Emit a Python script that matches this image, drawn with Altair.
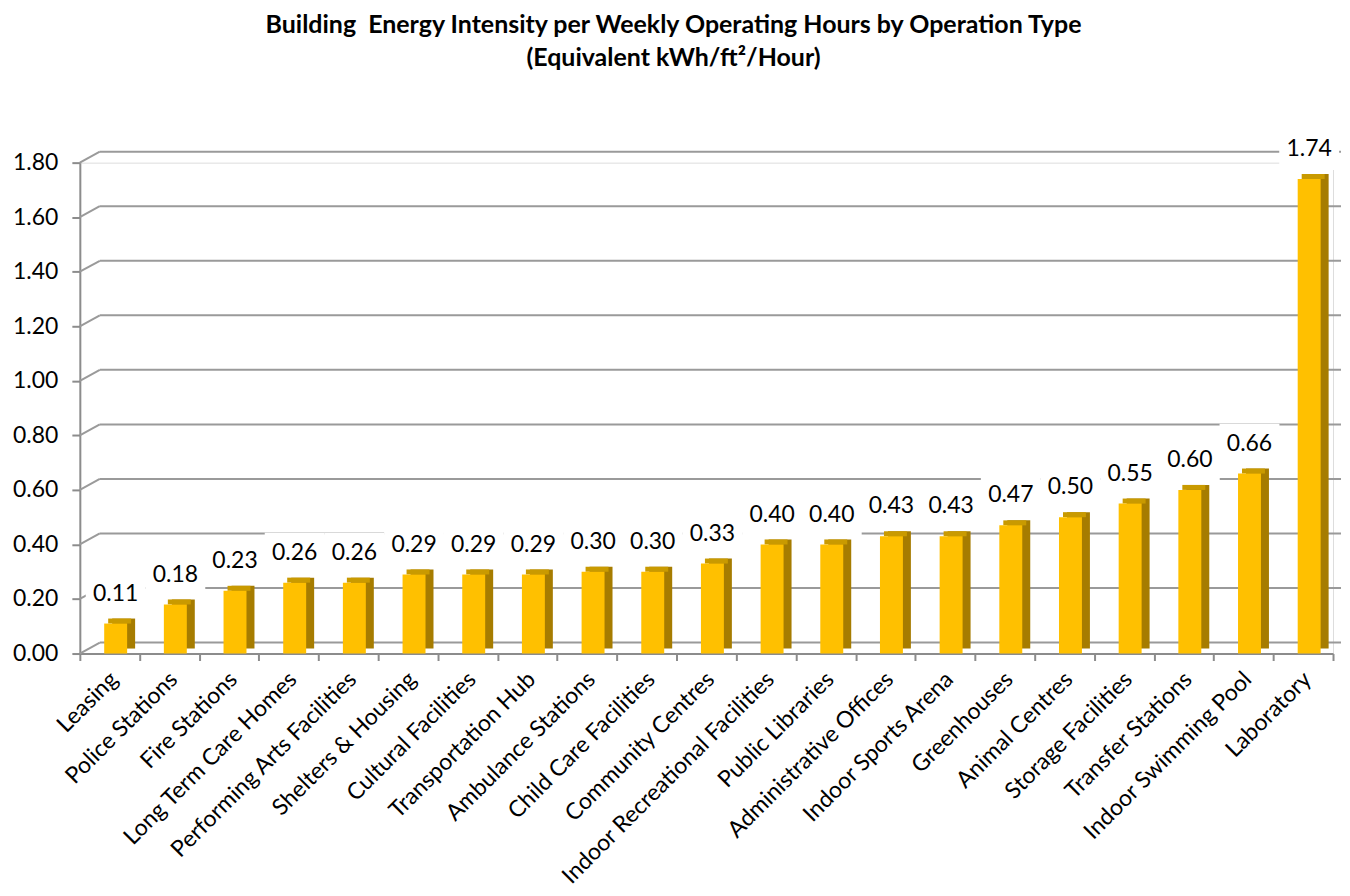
import altair as alt
import pandas as pd

categories = [
    "Leasing", "Police Stations", "Fire Stations", "Long Term Care Homes",
    "Performing Arts Facilities", "Shelters & Housing", "Cultural Facilities",
    "Transportation Hub", "Ambulance Stations", "Child Care Facilities",
    "Community Centres", "Indoor Recreational Facilities", "Public Libraries",
    "Administrative Offices", "Indoor Sports Arena", "Greenhouses",
    "Animal Centres", "Storage Facilities", "Transfer Stations",
    "Indoor Swimming Pool", "Laboratory",
]
values = [0.11, 0.18, 0.23, 0.26, 0.26, 0.29, 0.29, 0.29, 0.30, 0.30, 0.33,
          0.40, 0.40, 0.43, 0.43, 0.47, 0.50, 0.55, 0.60, 0.66, 1.74]
y_ticks = [0.0, 0.2, 0.4, 0.6, 0.8, 1.0, 1.2, 1.4, 1.6, 1.8]

df = pd.DataFrame({"cat": categories, "val": values})
df["label"] = [f"{v:.2f}" for v in values]
grid_df = pd.DataFrame({"val": y_ticks})

W, H = 1256, 492
FONT = "Lato"
FS = 23

yscale = alt.Scale(domain=[0, 1.8], nice=False, zero=True)
yaxis = alt.Axis(values=y_ticks, format=".2f", grid=False,
                 labelFont=FONT, labelFontSize=FS, labelColor="#000000",
                 labelPadding=14, tickSize=8, tickColor="#8c8c8c", tickWidth=2,
                 domainColor="#8c8c8c", domainWidth=2)

xs = alt.X("cat:N", sort=categories, title=None,
           scale=alt.Scale(paddingInner=0, paddingOuter=0),
           axis=alt.Axis(labelAngle=-45, labelAlign="right", labelBaseline="middle",
                         labelFont=FONT, labelFontSize=FS, labelColor="#000000",
                         labelPadding=15, labelOffset=4, tickBand="extent",
                         tickSize=7, tickColor="#8c8c8c", tickWidth=2,
                         domainColor="#8c8c8c", domainWidth=2, labelLimit=400))
ys = alt.Y("val:Q", title=None, scale=yscale, axis=yaxis)

back_grid = alt.Chart(grid_df).mark_rule(color="#9a9a9a", strokeWidth=2, yOffset=-11).encode(
    x=alt.value(20), x2=alt.value(W + 8), y=ys)
diag = alt.Chart(grid_df).mark_rule(color="#9a9a9a", strokeWidth=2, y2Offset=-11).encode(
    x=alt.value(0), x2=alt.value(20), y=ys, y2="val:Q")

boxes = alt.Chart(df).mark_bar(color="white", width=60, xOffset=6, yOffset=-50, y2Offset=-9).encode(
    x=xs, y=ys, y2="val:Q")
side = alt.Chart(df).mark_bar(color="#A67C00", width=23, xOffset=14, yOffset=-5, y2Offset=-5).encode(
    x=xs, y=ys, y2=alt.datum(0))
top = alt.Chart(df).mark_bar(color="#C99A00", width=23, xOffset=10, y2Offset=-5).encode(
    x=xs, y=ys, y2="val:Q")
front = alt.Chart(df).mark_bar(color="#FFC000", width=23, xOffset=6).encode(
    x=xs, y=ys)
labels = alt.Chart(df).mark_text(font=FONT, fontSize=FS, color="#000000", dx=6, dy=-30,
                                 baseline="middle").encode(
    x=xs, y=ys, text="label:N")

chart = alt.layer(back_grid, diag, boxes, side, top, front, labels).properties(
    width=W, height=H,
    title=alt.TitleParams(
        ["Building\u00a0 Energy Intensity per Weekly Operating Hours by Operation Type",
         "(Equivalent kWh/ft²/Hour)"],
        font=FONT, fontSize=25, fontWeight="bold", color="#000000",
        anchor="middle", dx=-33, offset=58, lineHeight=33),
    padding={"left": 4, "top": 4, "right": 0, "bottom": 0},
).configure_view(stroke=None).configure(background="white")

chart.save("out.html", embed_options={"renderer": "svg", "actions": False})
